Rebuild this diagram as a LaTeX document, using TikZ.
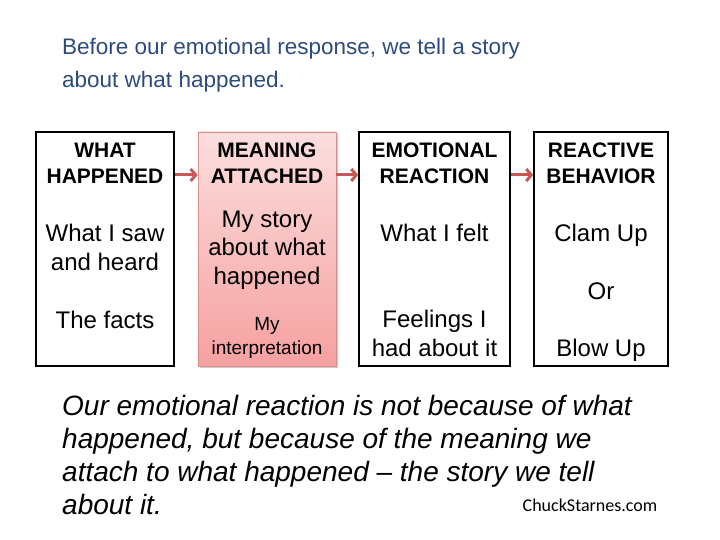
\documentclass[tikz,border=0pt]{standalone}
\usepackage{fontspec}
\setmainfont{Liberation Sans}
\newfontfamily\creditfont{Carlito}
\usetikzlibrary{positioning,shapes,shadows,arrows.meta}
\definecolor{titleblue}{RGB}{45,75,125}
\definecolor{arrowred}{RGB}{196,89,86}
\definecolor{pinktop}{RGB}{252,222,222}
\definecolor{pinkbottom}{RGB}{246,160,160}
\definecolor{pinkline}{RGB}{222,140,140}

\begin{document}
\begin{tikzpicture}[x=1pt,y=-1pt,
  box/.style={draw=black,line width=1.5,minimum height=234pt,inner sep=0},
  head/.style={font=\bfseries\fontsize{21}{26}\selectfont,align=center,anchor=base,inner sep=0},
  body/.style={font=\fontsize{24}{28.5}\selectfont,align=center,anchor=base,inner sep=0},
  small/.style={font=\fontsize{19}{24}\selectfont,align=center,anchor=base,inner sep=0},
  flow/.style={draw=arrowred,line width=3,-{Straight Barb[length=5pt,width=12pt,line width=3pt]}}]
\useasboundingbox (0,0) rectangle (720,540);

% heading (base = last line)
\node[anchor=base west,align=left,inner sep=0,text=titleblue,font=\fontsize{22.5}{33}\selectfont] (title) at (62,88) {Before our emotional response, we tell a story\\about what happened.};

% the four boxes
\node[box,minimum width=138pt] (b1) at (105,249) {};
\node[box,minimum width=138pt,draw=pinkline,line width=0.8,top color=pinktop,bottom color=pinkbottom,
  drop shadow={shadow xshift=2pt,shadow yshift=-2pt,opacity=0.35,fill=black!60}] (b2) at (267,249) {};
\node[box,minimum width=151pt] (b3) at (434.5,249) {};
\node[box,minimum width=134pt] (b4) at (601,249) {};

\node[head] (h1) at (b1.center |- 0,184) {WHAT\\HAPPENED};
\node[body] (t1) at (b1.center |- 0,270) {What I saw\\and heard};
\node[body] (t1b) at (b1.center |- 0,328) {The facts};

\node[head] (h2) at (b2.center |- 0,184) {MEANING\\ATTACHED};
\node[body] (t2) at (b2.center |- 0,284) {My story\\about what\\happened};
\node[small] (t2b) at (b2.center |- 0,354) {My\\interpretation};

\node[head] (h3) at (b3.center |- 0,184) {EMOTIONAL\\REACTION};
\node[body] (t3) at (b3.center |- 0,241) {What I felt};
\node[body] (t3b) at (b3.center |- 0,356) {Feelings I\\had about it};

\node[head] (h4) at (b4.center |- 0,184) {REACTIVE\\BEHAVIOR};
\node[body] (t4) at (b4.center |- 0,241) {Clam Up};
\node[body] (t4b) at (b4.center |- 0,299) {Or};
\node[body] (t4c) at (b4.center |- 0,356) {Blow Up};

% arrows between boxes
\draw[flow] ([yshift=74pt]b1.east) -- ([yshift=74pt]b2.west);
\draw[flow] ([yshift=74pt]b2.east) -- ([yshift=74pt]b3.west);
\draw[flow] ([yshift=74pt]b3.east) -- ([yshift=74pt]b4.west);

% bottom line (base = last line)
\node[anchor=base west,align=left,inner sep=0,font=\itshape\fontsize{28}{33}\selectfont] (moral) at (62,514) {Our emotional reaction is not because of what\\happened, but because of the meaning we\\attach to what happened – the story we tell\\about it.};
\node[anchor=base,inner sep=0,font=\creditfont\fontsize{18}{20}\selectfont] (credit) at (590,511) {ChuckStarnes.com};
\end{tikzpicture}
\end{document}
